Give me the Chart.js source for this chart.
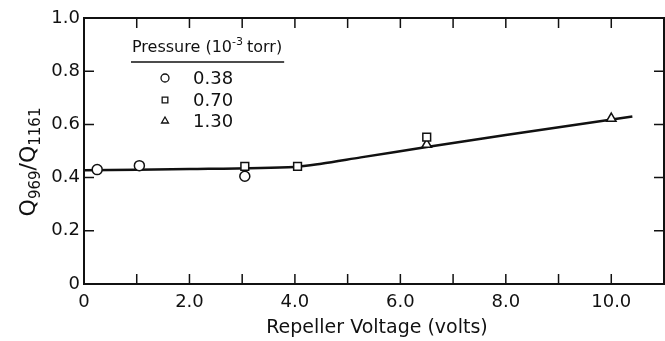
<!DOCTYPE html>
<html>
<head>
<meta charset="utf-8">
<script src="https://cdn.jsdelivr.net/npm/chart.js@4.4.1/dist/chart.umd.min.js"></script>
<style>
  html, body { margin: 0; padding: 0; background: #fff; }
  canvas { display: block; }
</style>
</head>
<body>
<canvas id="chart" width="665" height="341"></canvas>
<script>
// pressure 0.38 x10^-3 torr
const voltsLow = [0.25, 1.05, 3.05];
const ratioLow = [0.43, 0.445, 0.405];
// pressure 0.70
const voltsMid = [3.05, 4.05, 6.5];
const ratioMid = [0.442, 0.442, 0.552];
// pressure 1.30
const voltsHigh = [6.5, 10.0];
const ratioHigh = [0.524, 0.622];
// hand-drawn curve through the points
const curveVolts = [0, 2, 4, 4.5, 5.25, 6.5, 8, 10.4];
const curveRatio = [0.428, 0.432, 0.44, 0.452, 0.476, 0.515, 0.56, 0.63];

const pressureLabels = ['0.38', '0.70', '1.30'];
const legendTitle = 'Pressure (10';
const xTitle = 'Repeller Voltage (volts)';

const FONT = '"DejaVu Sans", sans-serif';
const INK = '#111';

function pts(xs, ys) {
  return xs.map((x, i) => ({ x: x, y: ys[i] }));
}

// frame, inward ticks, axis titles and the legend table
const decor = {
  id: 'decor',
  afterDraw(chart) {
    const ctx = chart.ctx;
    const a = chart.chartArea;
    const xs = chart.scales.x, ys = chart.scales.y;
    ctx.save();
    ctx.strokeStyle = INK;
    ctx.fillStyle = INK;
    ctx.lineWidth = 2;
    ctx.strokeRect(a.left, a.top, a.right - a.left, a.bottom - a.top);

    ctx.lineWidth = 1.5;
    const tl = 10;
    xs.ticks.forEach(t => {
      const px = xs.getPixelForValue(t.value);
      if (t.value <= xs.min || t.value >= xs.max) return;
      ctx.beginPath();
      ctx.moveTo(px, a.bottom); ctx.lineTo(px, a.bottom - tl);
      ctx.moveTo(px, a.top); ctx.lineTo(px, a.top + tl);
      ctx.stroke();
    });
    ys.ticks.forEach(t => {
      const py = ys.getPixelForValue(t.value);
      if (t.value <= ys.min || t.value >= ys.max - 1e-9) return;
      ctx.beginPath();
      ctx.moveTo(a.left, py); ctx.lineTo(a.left + tl, py);
      ctx.moveTo(a.right, py); ctx.lineTo(a.right - tl, py);
      ctx.stroke();
    });

    // x title
    ctx.font = '19px ' + FONT;
    ctx.textAlign = 'center';
    ctx.textBaseline = 'middle';
    ctx.fillText(xTitle, 377, 328);

    // y title: Q_969 / Q_1161, rotated
    ctx.save();
    ctx.translate(28, 162);
    ctx.rotate(-Math.PI / 2);
    const big = '22px ' + FONT, small = '15px ' + FONT;
    const parts = [['Q', big, 0], ['969', small, 5], ['/Q', big, 0], ['1161', small, 5]];
    let w = 0;
    parts.forEach(p => { ctx.font = p[1]; w += ctx.measureText(p[0]).width; });
    let cx = -w / 2;
    ctx.textAlign = 'left';
    ctx.textBaseline = 'alphabetic';
    parts.forEach(p => {
      ctx.font = p[1];
      ctx.fillText(p[0], cx, 7 + p[2]);
      cx += ctx.measureText(p[0]).width;
    });
    ctx.restore();

    // legend table
    ctx.textAlign = 'left';
    ctx.textBaseline = 'alphabetic';
    let lx = 132;
    ctx.font = '16px ' + FONT;
    ctx.fillText(legendTitle, lx, 52);
    lx += ctx.measureText(legendTitle).width;
    ctx.font = '11px ' + FONT;
    ctx.fillText('-3', lx, 45);
    lx += ctx.measureText('-3').width + 4;
    ctx.font = '16px ' + FONT;
    ctx.fillText('torr)', lx, 52);
    lx += ctx.measureText('torr)').width;
    ctx.lineWidth = 1.5;
    ctx.beginPath();
    ctx.moveTo(131, 62); ctx.lineTo(lx + 2, 62);
    ctx.stroke();

    const styles = ['circle', 'rect', 'triangle'];
    const rows = [78, 100, 121];
    ctx.font = '18px ' + FONT;
    ctx.textBaseline = 'middle';
    rows.forEach((ry, i) => {
      ctx.fillStyle = '#fff';
      ctx.lineWidth = 1.3;
      Chart.helpers.drawPoint(ctx, { pointStyle: styles[i], radius: 4, rotation: 0, borderWidth: 1.3 }, 165, ry);
      ctx.fillStyle = INK;
      ctx.fillText(pressureLabels[i], 193, ry + 1);
    });
    ctx.restore();
  }
};

const markerBase = {
  showLine: false,
  pointBackgroundColor: '#fff',
  pointBorderColor: INK,
  pointBorderWidth: 1.5,
  pointRadius: 5
};

new Chart(document.getElementById('chart'), {
  type: 'scatter',
  data: {
    datasets: [
      Object.assign({ label: pressureLabels[0], data: pts(voltsLow, ratioLow), pointStyle: 'circle' }, markerBase),
      Object.assign({ label: pressureLabels[1], data: pts(voltsMid, ratioMid), pointStyle: 'rect' }, markerBase, { pointRadius: 5.5 }),
      Object.assign({ label: pressureLabels[2], data: pts(voltsHigh, ratioHigh), pointStyle: 'triangle' }, markerBase, { pointRadius: 5.5 }),
      {
        label: 'fit',
        data: pts(curveVolts, curveRatio),
        showLine: true,
        borderColor: INK,
        borderWidth: 2.5,
        pointRadius: 0,
        tension: 0.3,
        order: 10
      }
    ]
  },
  options: {
    responsive: false,
    animation: false,
    layout: { autoPadding: false, padding: { top: 18, right: 1, left: 0, bottom: 0 } },
    plugins: { legend: { display: false }, tooltip: { enabled: false } },
    scales: {
      x: {
        type: 'linear', min: 0, max: 11,
        grid: { display: false, drawTicks: false },
        border: { display: false },
        afterFit(s) { s.height = 57; s.paddingLeft = 0; s.paddingRight = 0; },
        ticks: {
          stepSize: 1, autoSkip: false, maxRotation: 0, padding: 8,
          color: INK, font: { family: FONT, size: 18 },
          callback: v => (v % 2 !== 0 ? '' : (v === 0 ? '0' : v.toFixed(1)))
        }
      },
      y: {
        min: 0, max: 1,
        grid: { display: false, drawTicks: false },
        border: { display: false },
        afterFit(s) { s.width = 84; s.paddingTop = 0; s.paddingBottom = 0; },
        ticks: {
          stepSize: 0.2, padding: 4,
          color: INK, font: { family: FONT, size: 18 },
          callback: v => (v === 0 ? '0' : v.toFixed(1))
        }
      }
    }
  },
  plugins: [decor]
});
</script>
</body>
</html>
